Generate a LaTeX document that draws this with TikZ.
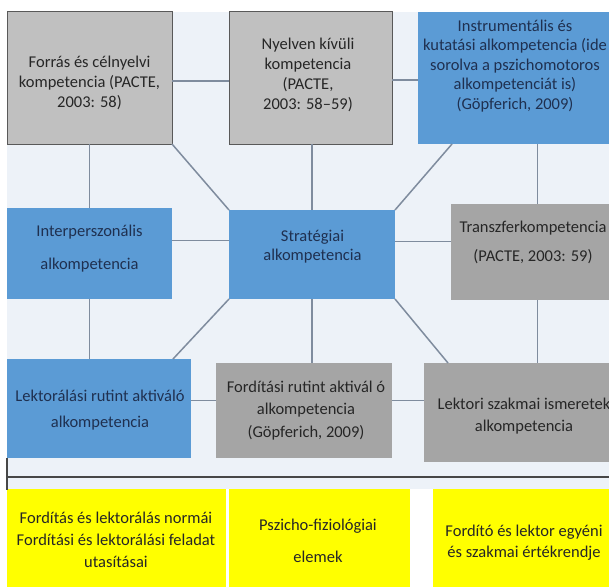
\documentclass[tikz,border=0pt]{standalone}
\usepackage{fontspec}
\setmainfont{Carlito}
\usetikzlibrary{calc}
\definecolor{bgc}{HTML}{EDF2F8}
\definecolor{blu}{HTML}{5B9BD5}
\definecolor{navy}{HTML}{1F3050}
\definecolor{gryA}{HTML}{C0C0C0}
\definecolor{gryB}{HTML}{A5A5A5}
\definecolor{ylw}{HTML}{FFFF00}
\definecolor{conn}{HTML}{7F8C9E}
\definecolor{txtd}{HTML}{262626}
\tikzset{
  box/.style={rectangle, inner sep=0pt, outer sep=0pt},
  bluebox/.style={box, fill=blu},
  graytop/.style={box, fill=gryA, draw=black!65, line width=1pt},
  graybox/.style={box, fill=gryB},
  yelbox/.style={box, fill=ylw},
  txt/.style={align=center, inner sep=0pt, font=\fontsize{16.5}{20}\selectfont, text=txtd},
  btxt/.style={txt, text=navy},
  link/.style={draw=conn, line width=1.5pt},
  rule/.style={draw=black!72, line width=1.5pt}
}
\newcommand{\mkbox}[6]{\node[#1, minimum width=#4-#2, minimum height=#5-#3, anchor=north west] (#6) at (#2,#3) {};}
\begin{document}
\begin{tikzpicture}[x=1pt, y=-1pt]
\useasboundingbox (0,0) rectangle (609,586);
\clip (0,0) rectangle (609,586);
\fill[white] (0,0) rectangle (609,586);
\fill[bgc] (7,12) rectangle (609,489);

% boxes
\mkbox{graytop}{7}{12}{172}{144}{forras}
\mkbox{graytop}{229}{12}{392}{144}{nyelv}
\mkbox{bluebox}{418}{12}{630}{144}{instr}
\mkbox{bluebox}{7}{208}{172}{299}{inter}
\mkbox{bluebox}{229}{210}{395}{299}{strat}
\mkbox{graybox}{451}{204}{624}{300}{transz}
\mkbox{bluebox}{7}{359}{191}{458}{lekt}
\mkbox{graybox}{216}{363}{392}{458}{ford}
\mkbox{graybox}{424}{363}{624}{462}{lektori}
\mkbox{yelbox}{7}{489}{226}{592}{yA}
\mkbox{yelbox}{229}{489}{410}{592}{yB}
\mkbox{yelbox}{433}{489}{620}{592}{yC}

% connectors
\draw[link] ([yshift=-3]forras.east) -- ([yshift=-3]forras.east -| nyelv.west);
\draw[link] ([yshift=-2]nyelv.east) -- ([yshift=-2]nyelv.east -| instr.west);
\draw[link] (forras.south) -- (inter.north);
\draw[link] (forras.south east) -- (strat.north west);
\draw[link] (nyelv.south -| strat.north) -- (strat.north);
\draw[link] ($(instr.south west)+(34,0)$) -- (strat.north east);
\draw[link] (transz.north |- instr.south) -- (transz.north);
\draw[link] ([yshift=13]inter.east) -- ([yshift=13]inter.east -| strat.west);
\draw[link] ([yshift=13]strat.east) -- ([yshift=13]strat.east -| transz.west);
\draw[link] (inter.south) -- (inter.south |- lekt.north);
\draw[link] (strat.south west) -- ($(lekt.north east)+(-18,0)$);
\draw[link] (strat.south) -- (strat.south |- ford.north);
\draw[link] (strat.south east) -- ($(lektori.north west)+(24,0)$);
\draw[link] (transz.south) -- (transz.south |- lektori.north);
\draw[link] ([yshift=8]lekt.east) -- ([yshift=8]lekt.east -| ford.west);
\draw[link] ([yshift=10]ford.east) -- ([yshift=10]ford.east -| lektori.west);

% bottom rule
\coordinate (ruleL) at (7,477);
\coordinate (ruleR) at (609,477);
\draw[rule] (ruleL) -- (ruleR);
\draw[rule] (7,458) -- (7,490);

% texts
\node[txt] (t1) at (89.5,83) {Forrás és célnyelvi\\kompetencia (PACTE,\\2003: 58)};
\node[txt] (t2) at (308,75) {Nyelven kívüli\\kompetencia\\(PACTE,\\2003: 58–59)};
\node[btxt, font=\fontsize{16.5}{19.5}\selectfont] (t3) at (515,66) {Instrumentális és\\kutatási alkompetencia (ide\\sorolva a pszichomotoros\\alkompetenciát is)\\(Göpferich, 2009)};
\node[btxt, font=\fontsize{16.5}{33}\selectfont] (t4) at (89.5,248.5) {Interperszonális\\alkompetencia};
\node[btxt, font=\fontsize{16.5}{19}\selectfont] (t5) at (312.5,246.5) {Stratégiai\\alkompetencia};
\node[txt, font=\fontsize{16.5}{29}\selectfont] (t6) at (533,242.5) {Transzferkompetencia\\(PACTE, 2003: 59)};
\node[btxt, font=\fontsize{16.5}{26}\selectfont] (t7) at (100,410) {Lektorálási rutint aktiváló\\alkompetencia};
\node[txt, font=\fontsize{16.5}{22.5}\selectfont] (t8) at (306,410.5) {Fordítási rutint aktivál ó\\alkompetencia\\(Göpferich, 2009)};
\node[txt, font=\fontsize{16.5}{22}\selectfont] (t9) at (524,416) {Lektori szakmai ismeretek\\alkompetencia};
\node[txt, font=\fontsize{16.5}{22}\selectfont] (t10) at (116,540) {Fordítás és lektorálás normái\\Fordítási és lektorálási feladat\\utasításai};
\node[txt, font=\fontsize{16.5}{32}\selectfont] (t11) at (318,541) {Pszicho-fiziológiai\\elemek};
\node[txt, font=\fontsize{16.5}{21}\selectfont] (t12) at (524,542.5) {Fordító és lektor egyéni\\és szakmai értékrendje};
\end{tikzpicture}
\end{document}
